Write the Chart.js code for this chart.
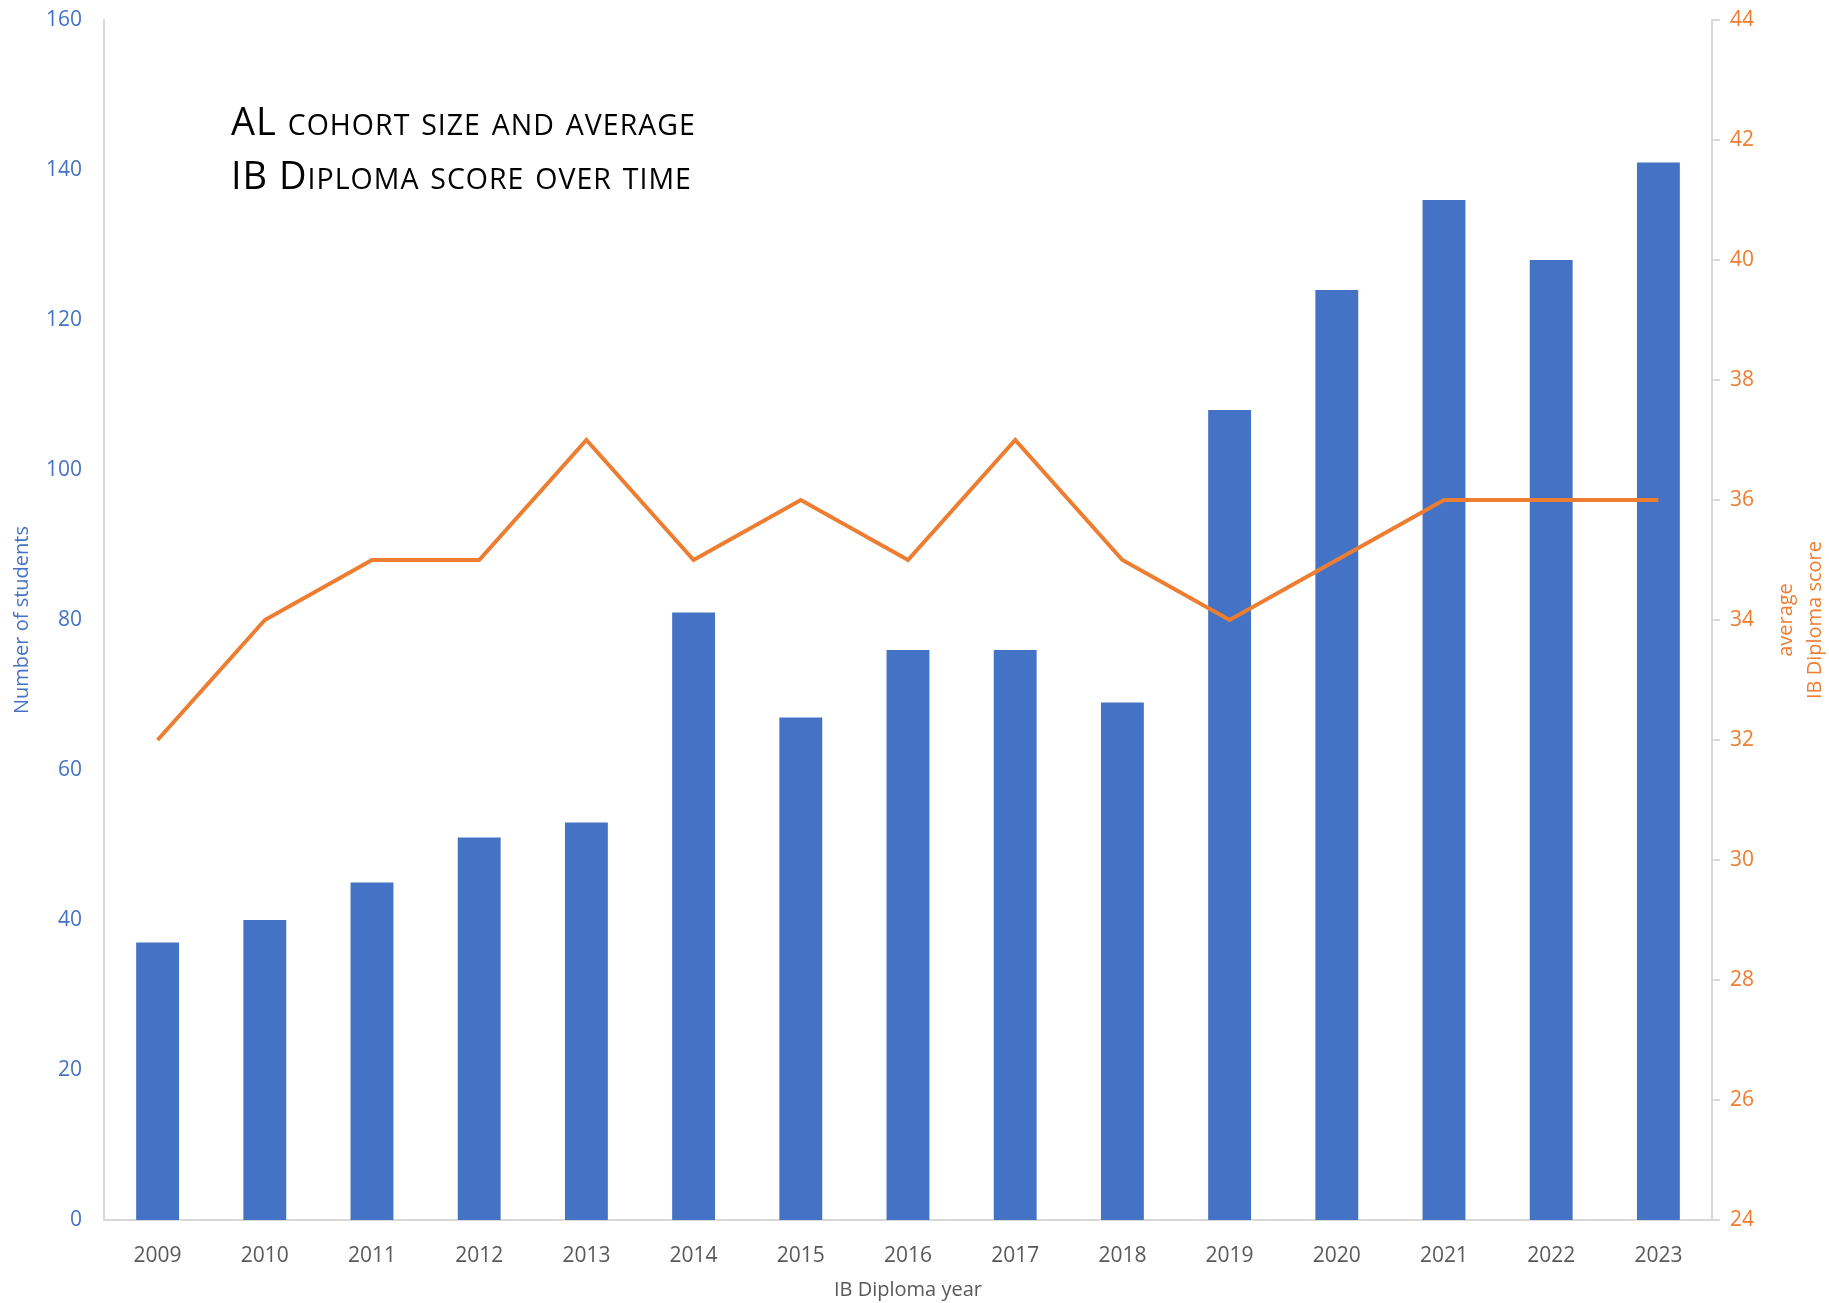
<!DOCTYPE html>
<html>
<head>
<meta charset="utf-8">
<title>AL cohort size and average IB Diploma score over time</title>
<script src="https://cdn.jsdelivr.net/npm/chart.js@4/dist/chart.umd.min.js"></script>
<style>
    html, body { margin: 0; padding: 0; background: #ffffff; }
    canvas { display: block; }
</style>
</head>
<body>
<canvas id="cohortChart" width="1829" height="1303"></canvas>
<script>
// data
const years = ['2009', '2010', '2011', '2012', '2013', '2014', '2015', '2016',
               '2017', '2018', '2019', '2020', '2021', '2022', '2023'];
const cohortSize = [37, 40, 45, 51, 53, 81, 67, 76, 76, 69, 108, 124, 136, 128, 141];
const averageScore = [32, 34, 35, 35, 37, 35, 36, 35, 37, 35, 34, 35, 36, 36, 36];
const titleLines = ['AL cohort size and average', 'IB Diploma score over time'];
const rightTitleLines = ['average', 'IB Diploma score'];

const BLUE = '#4472C4';
const ORANGE = '#ED7D31';
const GREY = '#595959';
const AXIS = '#d9d9d9';
const FONT = "'Open Sans', sans-serif";

// draws text in small caps: capitals full size, lower case as smaller capitals
function drawSmallCaps(ctx, text, x, y, bigSize, smallSize, spacing) {
    let cx = x;
    for (const ch of text) {
        const isLower = ch !== ch.toUpperCase();
        ctx.font = (isLower ? smallSize : bigSize) + 'px ' + FONT;
        const c = ch.toUpperCase();
        ctx.fillText(c, cx, y);
        cx += ctx.measureText(c).width + spacing;
    }
}

// fixes the y axis box so the plot area sits where it does in the picture
function fitYAxis(width) {
    return function(scale) {
        scale.width = width;
        scale.paddingTop = 20;
        scale.paddingBottom = 0;
    };
}

const overlayText = {
    id: 'overlayText',
    afterDraw(chart) {
        const ctx = chart.ctx;
        const area = chart.chartArea;
        ctx.save();
        ctx.fillStyle = '#000000';
        ctx.textBaseline = 'alphabetic';
        ctx.textAlign = 'left';
        drawSmallCaps(ctx, titleLines[0], 231, 135, 38, 28.5, 1);
        drawSmallCaps(ctx, titleLines[1], 231, 189, 38, 28.5, 1);

        // right axis title, reading bottom to top
        const cy = (area.top + area.bottom) / 2;
        ctx.fillStyle = ORANGE;
        ctx.font = '20px ' + FONT;
        ctx.textAlign = 'center';
        ctx.textBaseline = 'middle';
        ctx.translate(1786, cy);
        ctx.rotate(-Math.PI / 2);
        ctx.fillText(rightTitleLines[0], 0, 0);
        ctx.fillText(rightTitleLines[1], 0, 29);
        ctx.restore();
    }
};

const ctx = document.getElementById('cohortChart').getContext('2d');
new Chart(ctx, {
    type: 'bar',
    data: {
        labels: years,
        datasets: [{
            type: 'line',
            label: 'average IB Diploma score',
            data: averageScore,
            yAxisID: 'yScore',
            borderColor: ORANGE,
            backgroundColor: ORANGE,
            borderWidth: 4,
            pointRadius: 0,
            tension: 0,
            fill: false,
            order: 0
        }, {
            type: 'bar',
            label: 'Number of students',
            data: cohortSize,
            yAxisID: 'y',
            backgroundColor: BLUE,
            borderWidth: 0,
            barPercentage: 0.4,
            categoryPercentage: 1,
            order: 1
        }]
    },
    options: {
        responsive: false,
        animation: false,
        layout: { padding: 0 },
        plugins: {
            legend: { display: false },
            tooltip: { enabled: false }
        },
        scales: {
            x: {
                afterFit: function(scale) { scale.height = 83; },
                grid: { display: false },
                border: { display: true, color: AXIS, width: 2 },
                ticks: {
                    color: GREY,
                    font: { family: FONT, size: 21 },
                    padding: 15,
                    maxRotation: 0
                },
                title: {
                    display: true,
                    text: 'IB Diploma year',
                    color: GREY,
                    font: { family: FONT, size: 20 },
                    padding: { top: 0, bottom: 1 }
                }
            },
            y: {
                position: 'left',
                min: 0,
                max: 160,
                afterFit: fitYAxis(104),
                grid: { display: false },
                border: { display: true, color: AXIS, width: 2 },
                ticks: {
                    stepSize: 20,
                    color: BLUE,
                    font: { family: FONT, size: 21 },
                    padding: 14
                },
                title: {
                    display: true,
                    text: 'Number of students',
                    color: BLUE,
                    font: { family: FONT, size: 20 },
                    padding: { top: 10, bottom: 0 }
                }
            },
            yScore: {
                position: 'right',
                min: 24,
                max: 44,
                afterFit: fitYAxis(117),
                grid: {
                    display: true,
                    drawOnChartArea: false,
                    drawTicks: true,
                    tickLength: 8,
                    color: AXIS,
                    lineWidth: 2
                },
                border: { display: true, color: AXIS, width: 2 },
                ticks: {
                    stepSize: 2,
                    color: ORANGE,
                    font: { family: FONT, size: 21 },
                    padding: 10
                }
            }
        }
    },
    plugins: [overlayText]
});
</script>
</body>
</html>
